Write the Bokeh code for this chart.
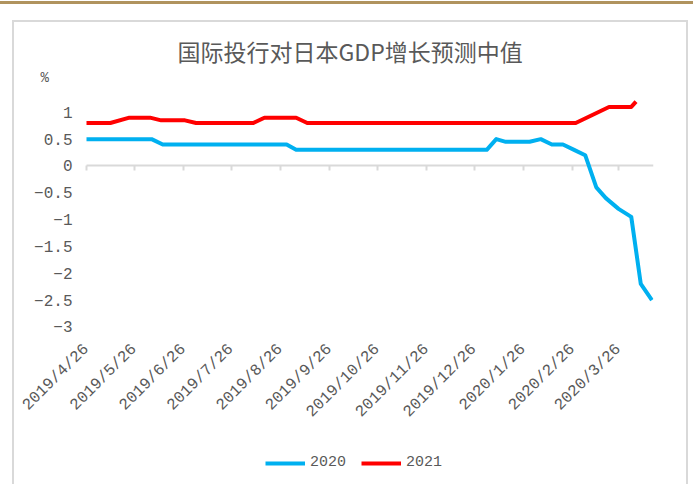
import math
import pandas as pd
from bokeh.plotting import figure
from bokeh.models import (Range1d, FixedTicker, Title, Legend, LegendItem,
                          DatetimeAxis, LinearAxis)
from bokeh.embed import file_html
from bokeh.resources import INLINE

# ---------------- data ----------------
TITLE = "国际投行对日本GDP增长预测中值"
UNIT_LABEL = "%"
SERIES_NAMES = ["2020", "2021"]

DATES_2020 = ["2019-04-26", "2019-06-06", "2019-06-13", "2019-08-30", "2019-09-05",
              "2020-01-03", "2020-01-09", "2020-01-15", "2020-01-30", "2020-02-06",
              "2020-02-13", "2020-02-20", "2020-02-27", "2020-03-05", "2020-03-12",
              "2020-03-18", "2020-03-26", "2020-04-03", "2020-04-09", "2020-04-16"]
VALUES_2020 = [0.5, 0.5, 0.4, 0.4, 0.3,
               0.3, 0.5, 0.45, 0.45, 0.5,
               0.4, 0.4, 0.3, 0.2, -0.4,
               -0.6, -0.8, -0.95, -2.2, -2.5]

DATES_2021 = ["2019-04-26", "2019-05-11", "2019-05-23", "2019-06-05", "2019-06-12",
              "2019-06-27", "2019-07-04", "2019-08-09", "2019-08-16", "2019-09-05",
              "2019-09-12", "2020-02-28", "2020-03-20", "2020-04-03", "2020-04-06"]
VALUES_2021 = [0.8, 0.8, 0.9, 0.9, 0.85,
               0.85, 0.8, 0.8, 0.9, 0.9,
               0.8, 0.8, 1.1, 1.1, 1.2]

X_TICK_DATES = ["2019-04-26", "2019-05-26", "2019-06-26", "2019-07-26", "2019-08-26",
                "2019-09-26", "2019-10-26", "2019-11-26", "2019-12-26", "2020-01-26",
                "2020-02-26", "2020-03-26"]
X_TICK_LABELS = ["2019/4/26", "2019/5/26", "2019/6/26", "2019/7/26", "2019/8/26",
                 "2019/9/26", "2019/10/26", "2019/11/26", "2019/12/26", "2020/1/26",
                 "2020/2/26", "2020/3/26"]
Y_TICKS = [-3, -2.5, -2, -1.5, -1, -0.5, 0, 0.5, 1]
Y_TICK_LABELS = ["\u22123", "\u22122.5", "\u22122", "\u22121.5", "\u22121",
                 "\u22120.5", "0", "0.5", "1"]
Y_AXIS_MIN = -3          # lowest labelled value, where the date labels sit

X_START, X_END = "2019-04-26", "2020-04-17"
Y_START, Y_END = -5.94, 1.5   # frame runs to the page bottom (legend lives inside it)

# layout (pixels)
W, H = 693, 484
AXIS_LEFT_PX = 86             # where the date axis starts
FRAME_RIGHT_PAD = 40


def ms(s):
    return float(pd.Timestamp(s).value // 10**6)


x0, x1 = ms(X_START), ms(X_END)
axis_px = W - FRAME_RIGHT_PAD - AXIS_LEFT_PX
frame_x_start = x0 - (x1 - x0) * AXIS_LEFT_PX / axis_px

GRAY_TEXT = "#595959"
AXIS_GRAY = "#d9d9d9"
FONT = "Noto Sans CJK SC"
TICK_FONT = "Liberation Mono"

p = figure(width=W, height=H, output_backend="svg", toolbar_location=None,
           x_axis_type="datetime", x_axis_location=None, y_axis_location=None,
           x_range=Range1d(frame_x_start, x1),
           y_range=Range1d(Y_START, Y_END),
           min_border_left=0, min_border_right=FRAME_RIGHT_PAD, min_border_top=85,
           min_border_bottom=0)
p.grid.visible = False
p.outline_line_color = None
p.background_fill_color = None
p.border_fill_color = None
p.styles = {
    "background-color": "white",
    "background-image": ("linear-gradient(#b0935e,#b0935e), linear-gradient(#d9d9d9,#d9d9d9), "
                         "linear-gradient(#d9d9d9,#d9d9d9), linear-gradient(#d9d9d9,#d9d9d9)"),
    "background-size": "693px 3px, 2px 470px, 676px 2px, 2px 470px",
    "background-position": "0px 1px, 12px 20px, 12px 20px, 686px 20px",
    "background-repeat": "no-repeat",
}

# value axis: labels only, at the start of the dates
yax = LinearAxis(fixed_location=x0, ticker=FixedTicker(ticks=Y_TICKS),
                 major_label_overrides=dict(zip(Y_TICKS, Y_TICK_LABELS)),
                 axis_line_color=None, major_tick_line_color=None,
                 minor_tick_line_color=None, major_tick_in=0, major_tick_out=0,
                 major_label_standoff=14, major_label_text_font=TICK_FONT,
                 major_label_text_font_size="16px", major_label_text_color=GRAY_TEXT)
p.add_layout(yax, "left")

tick_ms = [ms(d) for d in X_TICK_DATES]

# date labels, placed at the lowest value of the value axis
xax = DatetimeAxis(fixed_location=Y_AXIS_MIN, ticker=FixedTicker(ticks=tick_ms),
                   major_label_overrides=dict(zip(tick_ms, X_TICK_LABELS)),
                   major_label_orientation=math.pi / 4,
                   axis_line_color=None, major_tick_line_color=None,
                   minor_tick_line_color=None, major_tick_in=0, major_tick_out=0,
                   major_label_standoff=20, major_label_text_font=TICK_FONT,
                   major_label_text_font_size="16px",
                   major_label_text_color=GRAY_TEXT)
p.add_layout(xax, "below")

# zero line with tick marks
zax = DatetimeAxis(fixed_location=0, bounds=(x0, x1), ticker=FixedTicker(ticks=tick_ms),
                   axis_line_color=AXIS_GRAY, axis_line_width=2,
                   major_tick_line_color=AXIS_GRAY, major_tick_line_width=2,
                   major_tick_in=0, major_tick_out=5,
                   minor_tick_line_color=None,
                   major_label_overrides={t: "" for t in tick_ms},
                   major_label_text_font_size="1px", level="underlay")
p.add_layout(zax, "below")

# lines
r20 = p.line([ms(d) for d in DATES_2020], VALUES_2020, line_color="#00b0f0",
             line_width=4, line_join="round")
r21 = p.line([ms(d) for d in DATES_2021], VALUES_2021, line_color="#ff0000",
             line_width=4, line_join="round")

# titles
p.add_layout(Title(text=UNIT_LABEL, align="left", offset=40, standoff=0,
                   text_font=TICK_FONT, text_font_size="14px",
                   text_color=GRAY_TEXT, text_font_style="normal"), "above")
p.add_layout(Title(text=TITLE, align="left", offset=177, standoff=0,
                   text_font=FONT, text_font_size="23px",
                   text_color=GRAY_TEXT, text_font_style="normal"), "above")

legend = Legend(items=[LegendItem(label=SERIES_NAMES[0], renderers=[r20]),
                       LegendItem(label=SERIES_NAMES[1], renderers=[r21])],
                orientation="horizontal", location=(265, 13),
                border_line_color=None, background_fill_alpha=0,
                padding=0, margin=0, spacing=15, glyph_width=40, glyph_height=16,
                label_text_font=TICK_FONT, label_text_font_size="15px",
                label_text_color=GRAY_TEXT, label_standoff=5)
p.add_layout(legend)

open("out.html", "w").write(file_html(p, INLINE))
